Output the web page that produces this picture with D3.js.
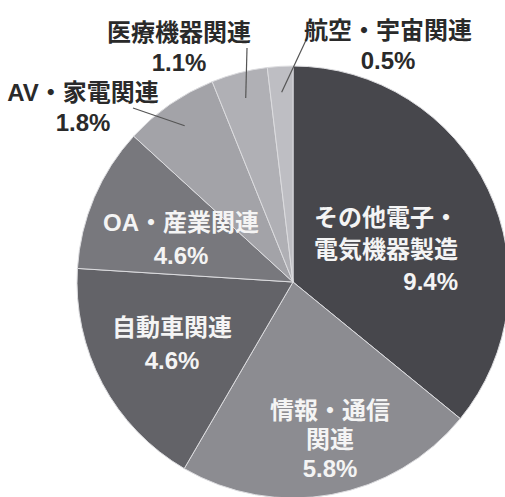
<!DOCTYPE html>
<html lang="ja">
<head>
    <meta charset="UTF-8">
    <title>Pie</title>
    <style>
        body {
            margin: 0;
            background: #fff;
        }

        text {
            font-family: "Liberation Sans", "Noto Sans CJK JP", sans-serif;
            font-weight: bold;
            font-size: 24px;
        }
    </style>
</head>

<body>
    <svg id="pie"></svg>
</body>

<script src="https://cdn.jsdelivr.net/npm/d3@7/dist/d3.min.js"></script>

<script>
    // slice names, clockwise from 12 o'clock
    let categories = ["その他電子・電気機器製造", "情報・通信関連", "自動車関連", "OA・産業関連", "AV・家電関連", "医療機器関連", "航空・宇宙関連"]
    // share of the circle as drawn
    let shares = [35.9, 22.5, 17.6, 10.8, 7.1, 4.2, 1.9]
    // printed percentages
    let percentLabels = ["9.4%", "5.8%", "4.6%", "4.6%", "1.8%", "1.1%", "0.5%"]
    // label lines
    let labelLines = [
        ["その他電子・", "電気機器製造"],
        ["情報・通信", "関連"],
        ["自動車関連"],
        ["OA・産業関連"],
        ["AV・家電関連"],
        ["医療機器関連"],
        ["航空・宇宙関連"]
    ]
    let fills = ["#47474c", "#8c8c91", "#636368", "#78787d", "#a3a3a8", "#b0b0b5", "#bebec3"]

    let width = 505;
    let height = 497;
    let cx = 293, cy = 282, radius = 216;

    // label anchor (x, y of first line), alignment, colour, outside or not
    let layout = [
        { x: 458, y: 226, anchor: "end", inside: true, lineGap: 32, pctX: 458 },
        { x: 330, y: 419, anchor: "middle", inside: true, lineGap: 29 },
        { x: 172, y: 336, anchor: "middle", inside: true, lineGap: 33 },
        { x: 181, y: 231, anchor: "middle", inside: true, lineGap: 33 },
        { x: 83, y: 101, anchor: "middle", inside: false, lineGap: 30, lineFrom: [133, 108] },
        { x: 179, y: 41, anchor: "middle", inside: false, lineGap: 30, lineFrom: [247, 48] },
        { x: 388, y: 39, anchor: "middle", inside: false, lineGap: 30, lineFrom: [307, 38] }
    ]

    let data = categories.map((c, i) => ({
        name: c,
        share: shares[i],
        pct: percentLabels[i],
        lines: labelLines[i],
        fill: fills[i],
        layout: layout[i]
    }))

    let svg = d3.select("#pie")
        .attr("width", width)
        .attr("height", height)

    let pie = d3.pie()
        .sort(null)
        .value(d => d.share)

    let arc = d3.arc()
        .innerRadius(0)
        .outerRadius(radius)

    let leaderArc = d3.arc()
        .innerRadius(radius * 0.88)
        .outerRadius(radius * 0.88)

    let body = svg.append("g")
        .attr("transform", `translate(${cx},${cy})`)

    let arcs = pie(data)

    body.selectAll("path")
        .data(arcs)
        .enter()
        .append("path")
        .attr("d", arc)
        .attr("fill", d => d.data.fill)
        .attr("stroke", "#dcdcdf")
        .attr("stroke-width", 1)

    // leader lines for the small slices
    body.selectAll("line")
        .data(arcs.filter(d => !d.data.layout.inside))
        .enter()
        .append("line")
        .attr("x1", d => d.data.layout.lineFrom[0] - cx)
        .attr("y1", d => d.data.layout.lineFrom[1] - cy)
        .attr("x2", d => leaderArc.centroid(d)[0])
        .attr("y2", d => leaderArc.centroid(d)[1])
        .attr("stroke", "#555")
        .attr("stroke-width", 1.2)

    let labels = svg.selectAll("g.label")
        .data(data)
        .enter()
        .append("g")
        .attr("class", "label")

    labels.each(function (d) {
        let g = d3.select(this)
        let l = d.layout
        let color = l.inside ? "#f4f4f4" : "#2a2a2a"
        let all = d.lines.concat([d.pct])
        all.forEach((t, i) => {
            let isPct = i === all.length - 1
            g.append("text")
                .attr("x", isPct && l.pctX ? l.pctX : l.x)
                .attr("y", l.y + i * l.lineGap)
                .attr("text-anchor", l.anchor)
                .attr("fill", color)
                .text(t)
        })
    })
</script>

</html>
